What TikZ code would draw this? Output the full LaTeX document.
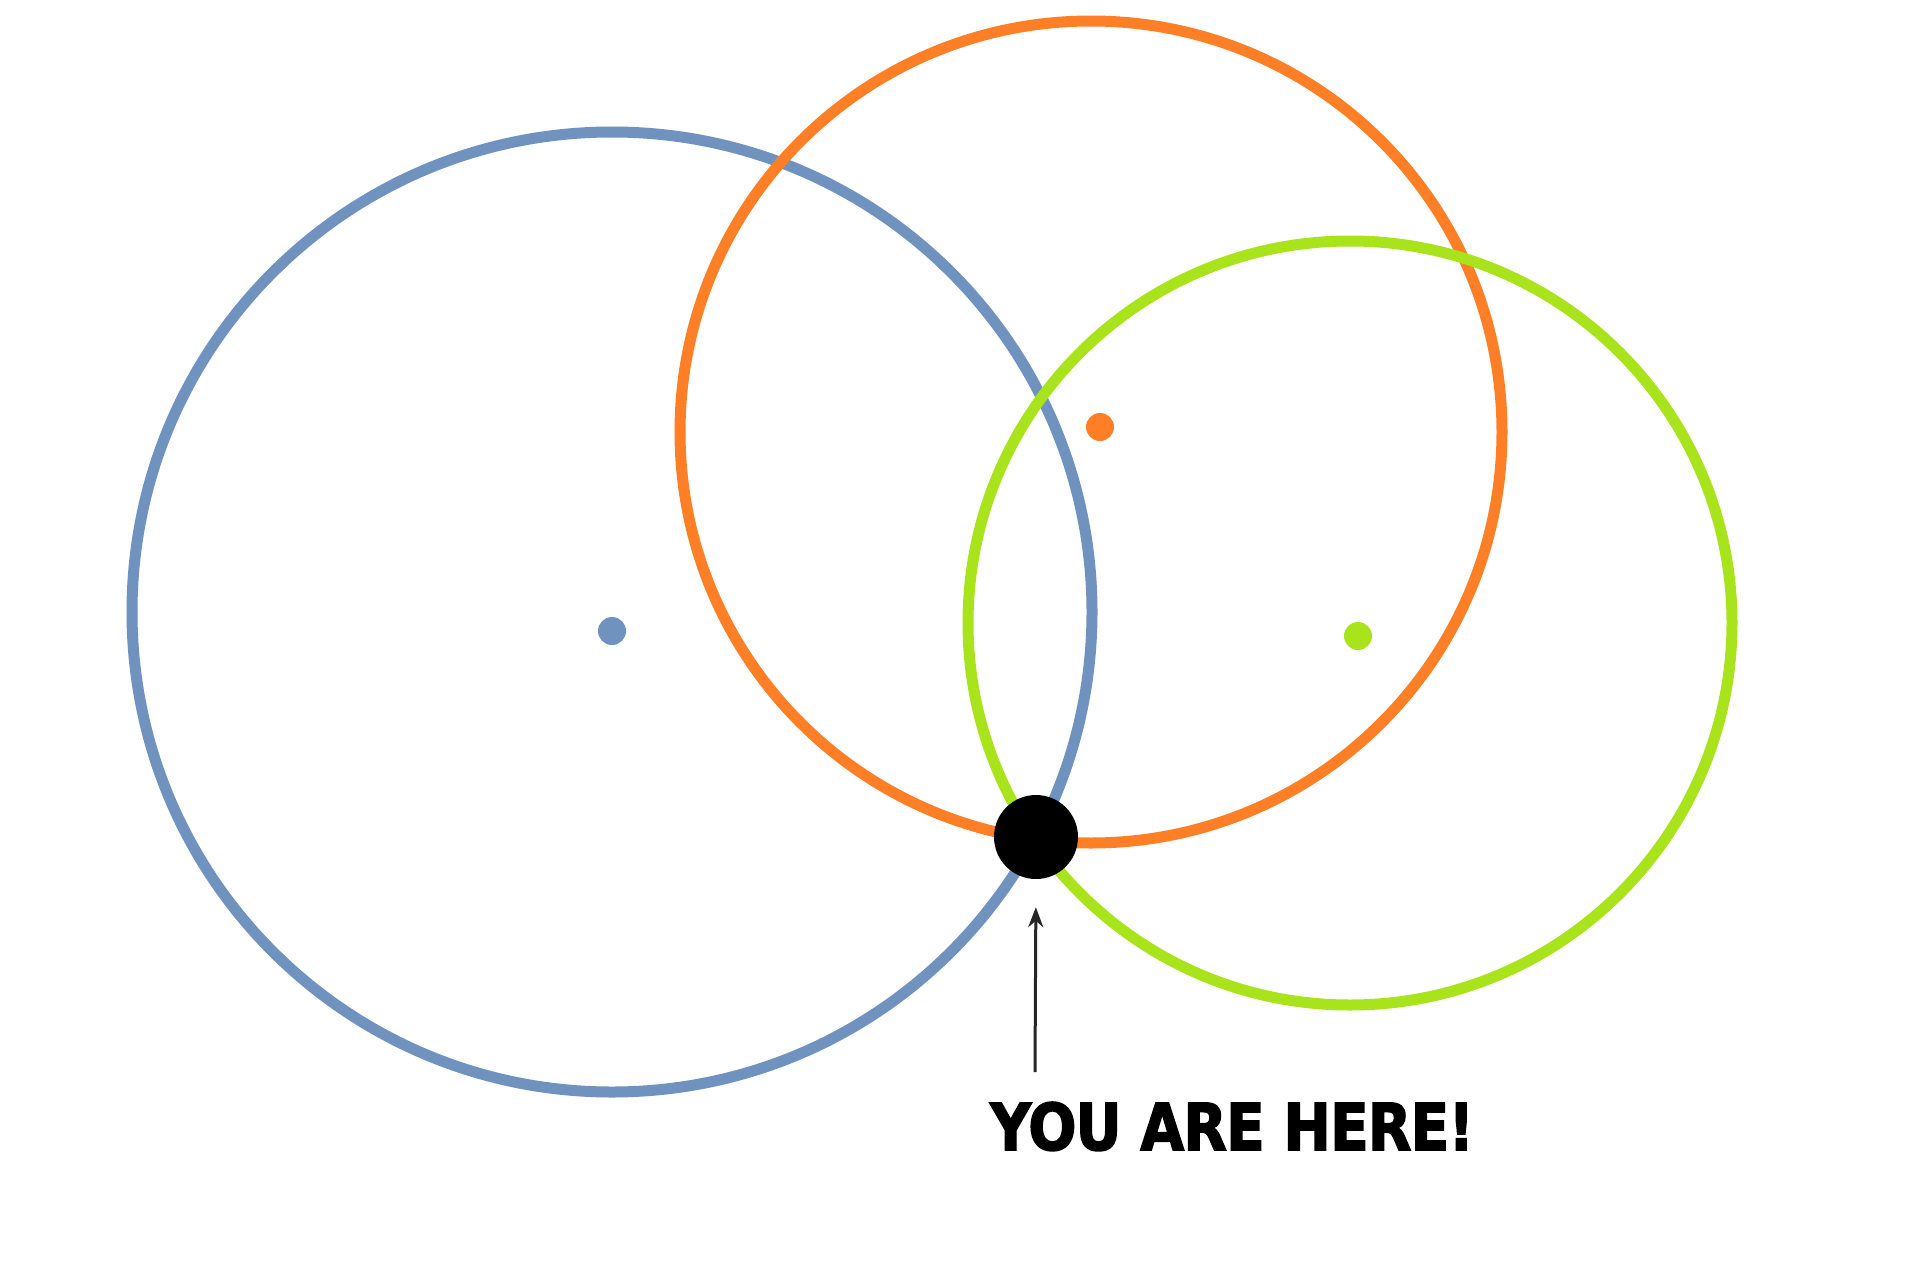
\documentclass[tikz,border=0pt]{standalone}
\usepackage{fontspec}
\setmainfont{DejaVu Sans}
\newfontfamily\heavyfont{DejaVu Sans Bold}[FakeBold=2.5,LetterSpace=-1.5]
\usetikzlibrary{arrows.meta}
\definecolor{cblue}{HTML}{7092BE}
\definecolor{corange}{HTML}{FF7F27}
\definecolor{cgreen}{HTML}{A8E31B}
\begin{document}
\begin{tikzpicture}[x=1pt,y=-1pt,
  ring/.style={line width=11pt},
  centredot/.style={circle,inner sep=0pt,minimum size=28pt},
  heredot/.style={circle,fill=black,inner sep=0pt,minimum size=84pt},
  pointer/.style={line width=3pt,draw=black!85,-{Stealth[length=20pt,width=15pt]}},
  caption/.style={inner sep=0pt,anchor=base west}]
  \fill[white] (0,0) rectangle (1920,1266);
  \useasboundingbox (0,0) rectangle (1920,1266);
  % circle centres
  \coordinate (cb) at (612,612);
  \coordinate (co) at (1091,432);
  \coordinate (cg) at (1350,623);
  % circles
  \draw[ring,cblue] (cb) circle[radius=480pt];
  \draw[ring,corange] (co) circle[radius=411pt];
  \draw[ring,cgreen] (cg) circle[radius=382pt];
  % centre dots
  \node[centredot,fill=cblue] (db) at (612,631) {};
  \node[centredot,fill=corange] (do) at (1100,427) {};
  \node[centredot,fill=cgreen] (dg) at (1358,636) {};
  % you are here
  \node[heredot] (here) at (1036,837) {};
  \node[caption] (label) at (990,1150) {\resizebox{484pt}{48pt}{\heavyfont YOU ARE HERE!}};
  \coordinate (foot) at (1035,1072);
  \draw[pointer,shorten >=28pt] (foot) -- (here.south);
\end{tikzpicture}
\end{document}
